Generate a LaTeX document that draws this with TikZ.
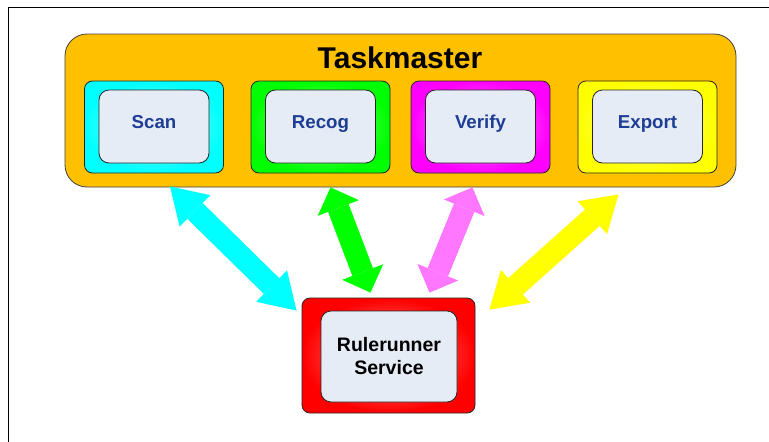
\documentclass[tikz,border=0pt]{standalone}
\usepackage{fontspec}
\setmainfont{Liberation Sans}
\usepackage{tikz}
\usetikzlibrary{arrows.meta, positioning}

\definecolor{gold}{RGB}{255,192,0}
\definecolor{paleblue}{RGB}{230,236,246}
\definecolor{labelblue}{RGB}{30,62,150}
\definecolor{pinkviolet}{RGB}{255,119,255}
\definecolor{scancyan}{RGB}{0,255,255}
\definecolor{recoggreen}{RGB}{0,255,0}
\definecolor{verifymagenta}{RGB}{255,0,255}
\definecolor{exportyellow}{RGB}{255,255,0}
\definecolor{runnerred}{RGB}{255,0,0}

\begin{document}
\begin{tikzpicture}[x=1pt, y=-1pt,
        panel/.style={draw=black!85, line width=0.8pt, fill=paleblue, rounded corners=10pt},
        task/.style={panel, minimum width=110pt, minimum height=73pt, text=labelblue,
            font=\fontsize{18.7}{22}\selectfont\bfseries, text height=14pt, text depth=10pt},
        stage/.style={draw=black!85, line width=0.8pt, rounded corners=8pt,
            minimum width=139pt, minimum height=92pt, inner color=#1!45!white, outer color=#1},
        link/.style={draw=#1, line width=22pt,
            {Triangle[length=35pt,width=44pt,line width=0pt]}-{Triangle[length=35pt,width=44pt,line width=0pt]}},
        shortlink/.style={draw=#1, line width=22pt,
            {Triangle[length=22pt,width=44pt,line width=0pt]}-{Triangle[length=22pt,width=44pt,line width=0pt]}}]
    \useasboundingbox (0,0) rectangle (769,442);

    % frame
    \draw[line width=1pt] (8,442) -- (8,7) -- (769,7);

    % taskmaster
    \node[draw=black!75, line width=0.8pt, fill=gold, rounded corners=22pt,
        minimum width=671pt, minimum height=153pt] (tm) at (400.5,110.5) {};
    \node[anchor=base, font=\fontsize{30}{36}\selectfont\bfseries] (title) at (400,68) {Taskmaster};

    \node[stage=scancyan] (scan) at (154,127) {};
    \node[stage=recoggreen] (recog) at (320.5,127) {};
    \node[stage=verifymagenta] (verify) at (480.5,127) {};
    \node[stage=exportyellow] (export) at (647.5,127) {};

    \node[task] (scanin) at (154,126.5) {Scan};
    \node[task] (recogin) at (320.5,126.5) {Recog};
    \node[task] (verifyin) at (480.5,126.5) {Verify};
    \node[task] (exportin) at (647.5,126.5) {Export};

    % rulerunner
    \node[stage=runnerred, minimum width=173pt, minimum height=115pt] (rr) at (388.5,355.5) {};
    \node[panel, minimum width=136pt, minimum height=91pt, align=center,
        font=\fontsize{19.5}{23}\selectfont\bfseries] (rrin) at (389,356.5) {Rulerunner\\Service};

    % links
    \draw[link=scancyan] ([xshift=16pt,yshift=-13pt]scan.south) -- ([xshift=-5pt,yshift=-13pt]rr.north west);
    \draw[shortlink=recoggreen] ([xshift=10pt,yshift=-14pt]recog.south) -- ([xshift=-18pt,yshift=5pt]rr.north);
    \draw[shortlink=pinkviolet] ([xshift=-8pt,yshift=-14pt]verify.south) -- ([xshift=41pt,yshift=5pt]rr.north);
    \draw[link=exportyellow] ([xshift=-29pt,yshift=-21pt]export.south) -- ([xshift=14pt,yshift=-12pt]rr.north east);
\end{tikzpicture}
\end{document}
